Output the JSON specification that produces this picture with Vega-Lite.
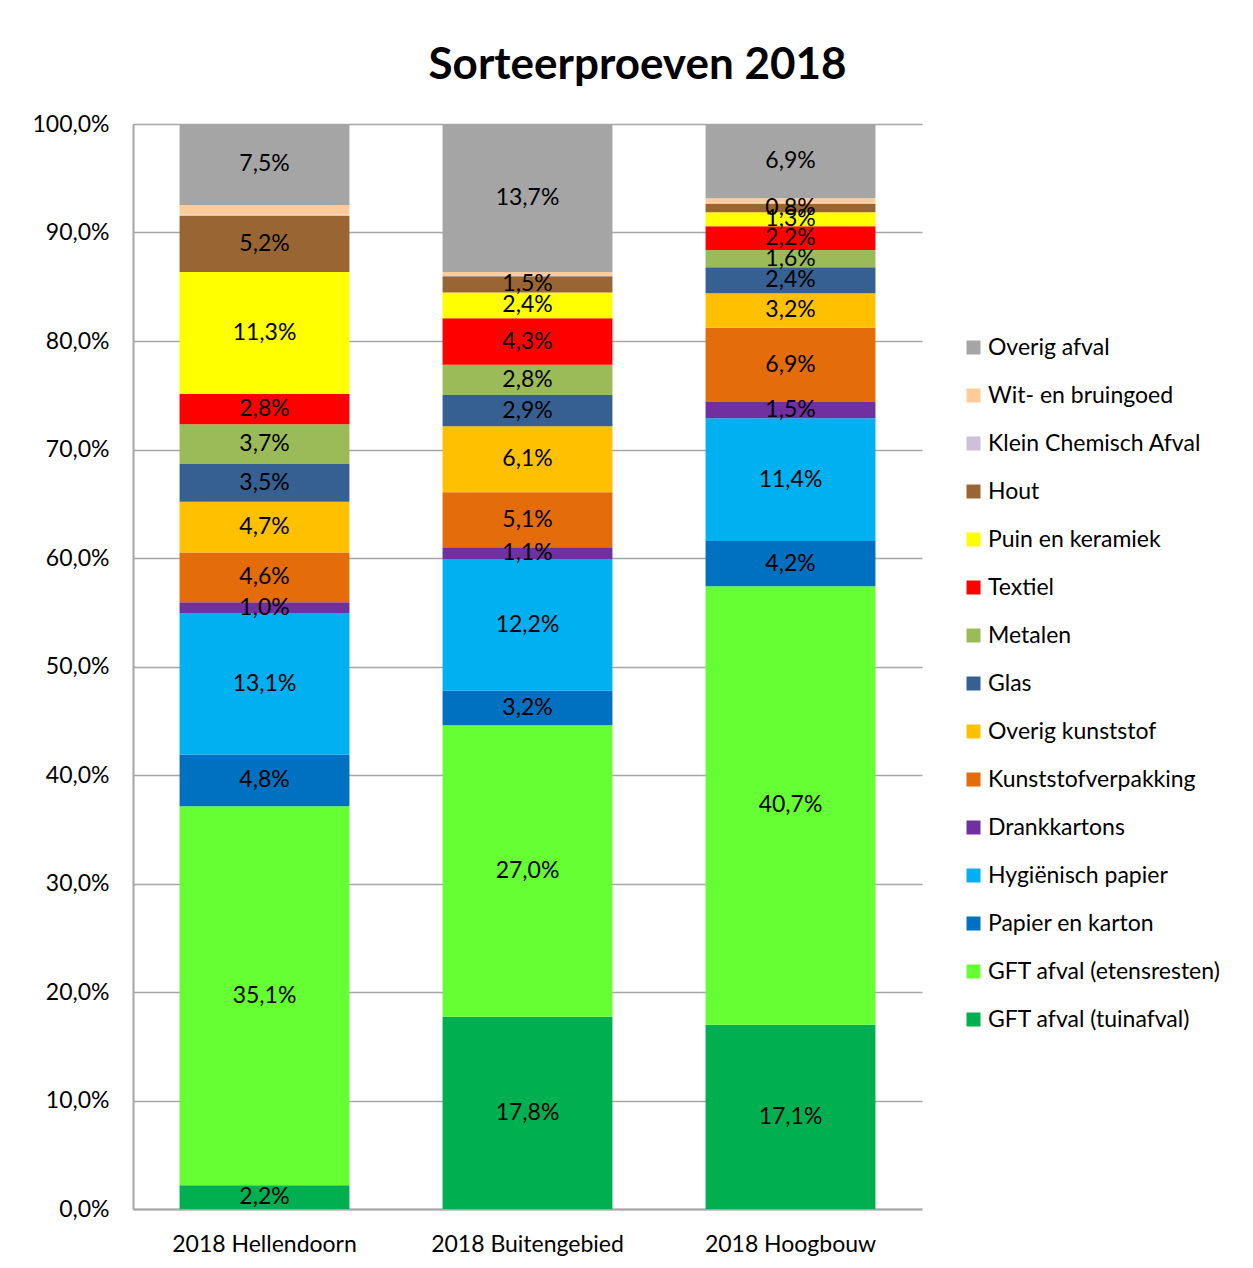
{
  "$schema": "https://vega.github.io/schema/vega-lite/v6.json",
  "autosize": "none",
  "width": 789,
  "height": 1085,
  "padding": {"left": 133, "top": 124, "right": 331, "bottom": 59},
  "config": {
    "locale": {"number": {"decimal": ",", "thousands": ".", "grouping": [3], "currency": ["€", ""]}},
    "font": "Lato",
    "view": {"stroke": null},
    "background": "white"
  },
  "title": {
    "text": "Sorteerproeven 2018",
    "font": "Lato",
    "fontSize": 44,
    "fontWeight": "bold",
    "color": "#000000",
    "anchor": "middle",
    "dx": 110,
    "offset": 25
  },
  "data": {
    "values": [
      {"site": "2018 Hellendoorn", "cat": "GFT afval (tuinafval)", "share": 0.022},
      {"site": "2018 Hellendoorn", "cat": "GFT afval (etensresten)", "share": 0.351},
      {"site": "2018 Hellendoorn", "cat": "Papier en karton", "share": 0.048},
      {"site": "2018 Hellendoorn", "cat": "Hygiënisch papier", "share": 0.131},
      {"site": "2018 Hellendoorn", "cat": "Drankkartons", "share": 0.010},
      {"site": "2018 Hellendoorn", "cat": "Kunststofverpakking", "share": 0.046},
      {"site": "2018 Hellendoorn", "cat": "Overig kunststof", "share": 0.047},
      {"site": "2018 Hellendoorn", "cat": "Glas", "share": 0.035},
      {"site": "2018 Hellendoorn", "cat": "Metalen", "share": 0.037},
      {"site": "2018 Hellendoorn", "cat": "Textiel", "share": 0.028},
      {"site": "2018 Hellendoorn", "cat": "Puin en keramiek", "share": 0.113},
      {"site": "2018 Hellendoorn", "cat": "Hout", "share": 0.052},
      {"site": "2018 Hellendoorn", "cat": "Klein Chemisch Afval", "share": 0.001},
      {"site": "2018 Hellendoorn", "cat": "Wit- en bruingoed", "share": 0.009},
      {"site": "2018 Hellendoorn", "cat": "Overig afval", "share": 0.075},
      {"site": "2018 Buitengebied", "cat": "GFT afval (tuinafval)", "share": 0.178},
      {"site": "2018 Buitengebied", "cat": "GFT afval (etensresten)", "share": 0.270},
      {"site": "2018 Buitengebied", "cat": "Papier en karton", "share": 0.032},
      {"site": "2018 Buitengebied", "cat": "Hygiënisch papier", "share": 0.122},
      {"site": "2018 Buitengebied", "cat": "Drankkartons", "share": 0.011},
      {"site": "2018 Buitengebied", "cat": "Kunststofverpakking", "share": 0.051},
      {"site": "2018 Buitengebied", "cat": "Overig kunststof", "share": 0.061},
      {"site": "2018 Buitengebied", "cat": "Glas", "share": 0.029},
      {"site": "2018 Buitengebied", "cat": "Metalen", "share": 0.028},
      {"site": "2018 Buitengebied", "cat": "Textiel", "share": 0.043},
      {"site": "2018 Buitengebied", "cat": "Puin en keramiek", "share": 0.024},
      {"site": "2018 Buitengebied", "cat": "Hout", "share": 0.015},
      {"site": "2018 Buitengebied", "cat": "Klein Chemisch Afval", "share": 0.001},
      {"site": "2018 Buitengebied", "cat": "Wit- en bruingoed", "share": 0.003},
      {"site": "2018 Buitengebied", "cat": "Overig afval", "share": 0.137},
      {"site": "2018 Hoogbouw", "cat": "GFT afval (tuinafval)", "share": 0.171},
      {"site": "2018 Hoogbouw", "cat": "GFT afval (etensresten)", "share": 0.407},
      {"site": "2018 Hoogbouw", "cat": "Papier en karton", "share": 0.042},
      {"site": "2018 Hoogbouw", "cat": "Hygiënisch papier", "share": 0.114},
      {"site": "2018 Hoogbouw", "cat": "Drankkartons", "share": 0.015},
      {"site": "2018 Hoogbouw", "cat": "Kunststofverpakking", "share": 0.069},
      {"site": "2018 Hoogbouw", "cat": "Overig kunststof", "share": 0.032},
      {"site": "2018 Hoogbouw", "cat": "Glas", "share": 0.024},
      {"site": "2018 Hoogbouw", "cat": "Metalen", "share": 0.016},
      {"site": "2018 Hoogbouw", "cat": "Textiel", "share": 0.022},
      {"site": "2018 Hoogbouw", "cat": "Puin en keramiek", "share": 0.013},
      {"site": "2018 Hoogbouw", "cat": "Hout", "share": 0.008},
      {"site": "2018 Hoogbouw", "cat": "Klein Chemisch Afval", "share": 0.001},
      {"site": "2018 Hoogbouw", "cat": "Wit- en bruingoed", "share": 0.004},
      {"site": "2018 Hoogbouw", "cat": "Overig afval", "share": 0.069}
    ]
  },
  "transform": [
    {"calculate": "indexof(['GFT afval (tuinafval)', 'GFT afval (etensresten)', 'Papier en karton', 'Hygiënisch papier', 'Drankkartons', 'Kunststofverpakking', 'Overig kunststof', 'Glas', 'Metalen', 'Textiel', 'Puin en keramiek', 'Hout', 'Klein Chemisch Afval', 'Wit- en bruingoed', 'Overig afval'], datum.cat)", "as": "stackIdx"}
  ],
  "encoding": {
    "x": {
      "field": "site",
      "type": "nominal",
      "sort": ["2018 Hellendoorn", "2018 Buitengebied", "2018 Hoogbouw"],
      "scale": {"paddingInner": 0.354, "paddingOuter": 0.177},
      "axis": {
        "title": null,
        "labelAngle": 0,
        "labelFontSize": 23,
        "labelColor": "#000000",
        "labelPadding": 24,
        "labelLimit": 400,
        "ticks": false,
        "domainColor": "#A6A6A6",
        "domainWidth": 2
      }
    },
    "order": {"field": "stackIdx", "type": "quantitative", "sort": "ascending"}
  },
  "layer": [
    {
      "mark": {"type": "bar"},
      "encoding": {
        "y": {
          "field": "share",
          "type": "quantitative",
          "stack": "normalize",
          "scale": {"domain": [0, 1]},
          "axis": {
            "title": null,
            "labelExpr": "format(datum.value, '.1%')",
            "values": [0, 0.1, 0.2, 0.3, 0.4, 0.5, 0.6, 0.7, 0.8, 0.9, 1],
            "labelFontSize": 23,
            "labelColor": "#000000",
            "labelPadding": 24,
            "ticks": false,
            "domainColor": "#A6A6A6",
            "domainWidth": 2,
            "gridColor": "#A6A6A6",
            "gridWidth": 1.5
          }
        },
        "color": {
          "field": "cat",
          "type": "nominal",
          "scale": {
            "domain": [
              "GFT afval (tuinafval)", "GFT afval (etensresten)", "Papier en karton", "Hygiënisch papier",
              "Drankkartons", "Kunststofverpakking", "Overig kunststof", "Glas", "Metalen", "Textiel",
              "Puin en keramiek", "Hout", "Klein Chemisch Afval", "Wit- en bruingoed", "Overig afval"
            ],
            "range": [
              "#00B050", "#66FF33", "#0070C0", "#00B0F0", "#7030A0", "#E46C0A", "#FFC000", "#376092",
              "#9BBB59", "#FF0000", "#FFFF00", "#996633", "#CCC0DA", "#FFCC99", "#A5A5A5"
            ]
          },
          "legend": {
            "title": null,
            "orient": "none",
            "legendX": 829,
            "legendY": 212,
            "values": [
              "Overig afval", "Wit- en bruingoed", "Klein Chemisch Afval", "Hout", "Puin en keramiek",
              "Textiel", "Metalen", "Glas", "Overig kunststof", "Kunststofverpakking", "Drankkartons",
              "Hygiënisch papier", "Papier en karton", "GFT afval (etensresten)", "GFT afval (tuinafval)"
            ],
            "symbolType": "square",
            "symbolSize": 196,
            "symbolStrokeWidth": 0,
            "labelFontSize": 23,
            "labelColor": "#000000",
            "labelLimit": 400,
            "rowPadding": 24,
            "labelOffset": 3
          }
        }
      }
    },
    {
      "mark": {"type": "text", "fontSize": 23, "color": "#000000", "baseline": "middle"},
      "encoding": {
        "y": {
          "field": "share",
          "type": "quantitative",
          "stack": "normalize",
          "bandPosition": 0.5,
          "scale": {"domain": [0, 1]},
          "axis": {
            "title": null,
            "labelExpr": "format(datum.value, '.1%')",
            "values": [0, 0.1, 0.2, 0.3, 0.4, 0.5, 0.6, 0.7, 0.8, 0.9, 1],
            "labelFontSize": 23,
            "labelColor": "#000000",
            "labelPadding": 24,
            "ticks": false,
            "domainColor": "#A6A6A6",
            "domainWidth": 2,
            "gridColor": "#A6A6A6",
            "gridWidth": 1.5
          }
        },
        "detail": {"field": "cat"},
        "text": {
          "condition": {"test": "datum.cat === 'Wit- en bruingoed' || datum.cat === 'Klein Chemisch Afval'", "value": ""},
          "field": "share",
          "type": "quantitative",
          "format": ".1%"
        }
      }
    }
  ]
}
